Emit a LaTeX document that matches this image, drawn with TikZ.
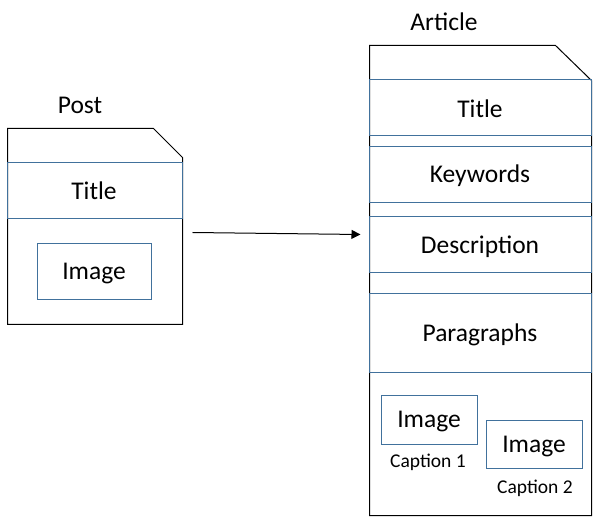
\documentclass[tikz,border=0pt]{standalone}
\usepackage{fontspec}
\setmainfont{Carlito}
\usetikzlibrary{arrows.meta}
\definecolor{bandblue}{RGB}{65,113,156}
\tikzset{
  doc/.style={draw=black, line width=1pt, fill=white},
  band/.style={draw=bandblue, line width=1pt},
  gapline/.style={draw=black, line width=1pt},
  lbl/.style={font=\fontsize{25.5}{30}\selectfont, inner sep=0pt},
  captext/.style={font=\fontsize{19.5}{23}\selectfont, inner sep=0pt},
  imgbox/.style={draw=bandblue, line width=1pt}
}
\begin{document}
\begin{tikzpicture}[x=1pt, y=-1pt]
\useasboundingbox (0,0) rectangle (597,518);
\begin{scope}[shift={(0.5,0.5)}]
% ---- Post ----
\draw[doc] (7,128) -- (153,128) -- (182,157) -- (182,324) -- (7,324) -- cycle;
\draw[band] (7,162) rectangle (182,218);
\draw[imgbox] (37,243) rectangle (151,299);
% ---- Article ----
\draw[doc] (369,45) -- (555,45) -- (591,80) -- (591,515) -- (369,515) -- cycle;
\draw[gapline] (369,135) -- (591,135);
\draw[band] (369,79) rectangle (591,135);
\draw[band] (369,146) rectangle (591,202);
\draw[band] (369,216) rectangle (591,272);
\draw[band] (369,293) rectangle (591,372);
\draw[imgbox] (381,395) rectangle (477,444);
\draw[imgbox] (486,420) rectangle (582,468);
\coordinate (arrstart) at (192,232);
\coordinate (arrend) at (360,234);
\end{scope}
\node[lbl] (posttitle) at (80,105) {Post};
\node[lbl] (ptitle) at (94,191) {Title};
\node[lbl] (pimage) at (94,273.5) {Image};
\node[lbl] (arttitle) at (444,22) {Article};
\node[lbl] (atitle) at (480,109) {Title};
\node[lbl] (akey) at (480,175.5) {Keywords};
\node[lbl] (adesc) at (480,246.5) {Description};
\node[lbl] (apara) at (480,334.5) {Paragraphs};
\node[lbl] (aimg1) at (429,421.5) {Image};
\node[lbl] (aimg2) at (534,446.5) {Image};
\node[captext] (cap1) at (428,462) {Caption 1};
\node[captext] (cap2) at (535,488) {Caption 2};
% ---- arrow ----
\draw[line width=1pt, -{Triangle[length=9pt,width=9pt]}] (arrstart) -- (arrend);
\end{tikzpicture}
\end{document}
